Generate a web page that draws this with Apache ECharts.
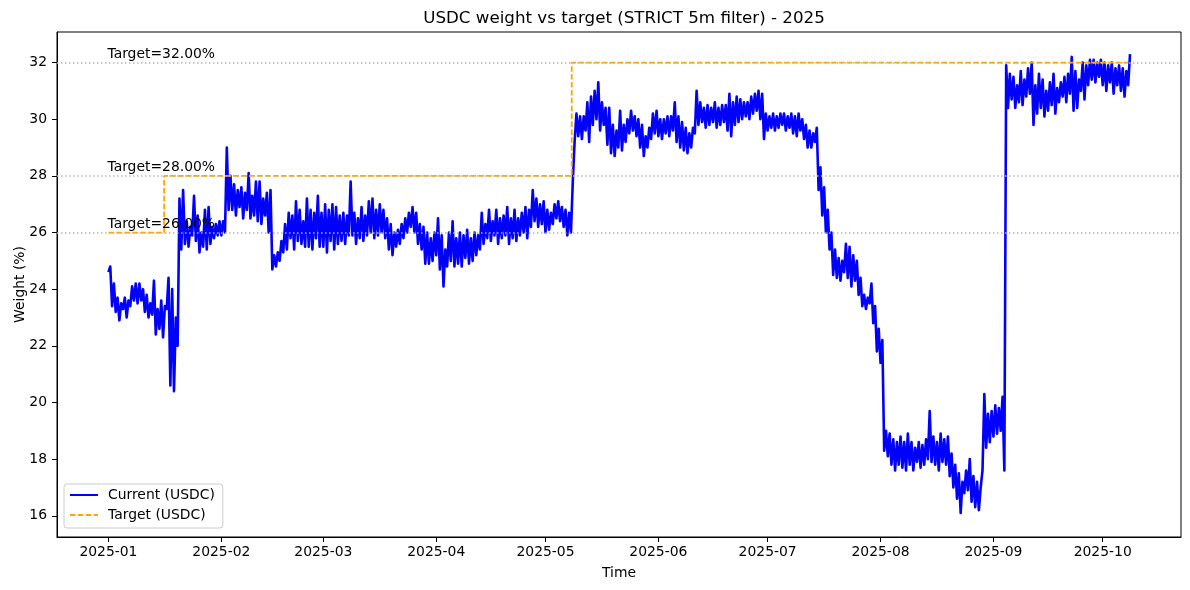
<!DOCTYPE html>
<html><head><meta charset="utf-8">
<script src="https://cdn.jsdelivr.net/npm/echarts@6/dist/echarts.min.js"></script>
<style>html,body{margin:0;padding:0;background:#fff}#c{width:1190px;height:590px}</style>
</head><body><div id="c"></div>
<script>
const titleText = 'USDC weight vs target (STRICT 5m filter) - 2025';
const seriesCurrent = 'Current (USDC)';
const seriesTarget = 'Target (USDC)';
const startDate = '2025-01-01T00:00:00Z';
const xMinDate = '2024-12-17T21:00:00Z';
const xMaxDate = '2025-10-22T12:00:00Z';
const tickLabels = ['2025-01','2025-02','2025-03','2025-04','2025-05','2025-06','2025-07','2025-08','2025-09','2025-10'];
const yTicks = [16, 18, 20, 22, 24, 26, 28, 30, 32];
const yMin = 15.25, yMax = 33.08;

// per-day band of USDC weight (%): low and high, one entry per day from 2025-01-01
const weightLow = [
  24.6,23.4,23.2,22.9,23.3,23.0,23.4,23.6,23.5,23.6,23.2,23.0,23.1,22.4,22.6,22.3,23.3,20.6,20.4,22.0,25.4,25.6,25.5,25.9,25.7,25.3,25.5,25.4,25.6,25.8,25.9,
  25.9,26.0,26.8,26.8,26.6,26.9,26.5,26.8,26.5,26.6,26.4,26.3,26.6,26.0,24.7,24.8,25.0,25.3,25.4,25.8,25.4,25.7,25.6,25.5,25.5,25.4,25.8,25.5,
  25.5,25.3,25.7,25.4,25.6,25.7,25.6,25.9,25.9,25.6,25.8,25.7,25.9,26.0,25.8,25.9,26.0,25.8,25.4,25.2,25.5,25.6,25.8,26.0,26.2,26.0,25.6,25.4,24.9,24.9,
  25.0,25.2,24.7,24.1,24.8,25.0,24.8,24.9,24.8,25.1,24.9,25.0,25.2,25.4,25.6,25.8,25.7,25.9,25.6,25.8,25.9,25.6,25.8,25.7,25.9,26.0,25.8,26.2,26.4,26.2,
  26.3,26.0,26.1,26.3,26.5,26.4,26.2,25.9,26.0,29.2,29.4,29.3,29.6,29.2,29.8,30.0,29.6,29.8,29.1,28.8,28.7,29.0,28.9,29.2,29.5,29.6,29.4,29.0,28.7,29.0,29.3,
  29.5,29.4,29.3,29.5,29.4,29.6,29.2,29.0,28.9,28.8,29.0,29.5,29.8,29.9,29.7,29.8,29.9,29.7,29.8,29.9,29.6,29.4,29.8,29.9,30.0,30.1,30.0,30.2,30.3,30.0,
  29.3,29.6,29.7,29.6,29.7,29.8,29.6,29.7,29.5,29.4,29.6,29.3,29.0,29.0,29.2,27.5,26.6,26.0,25.4,24.5,24.4,24.3,24.6,24.4,24.1,24.3,23.8,23.4,23.3,23.5,22.8,
  21.8,21.4,18.3,18.1,17.8,17.6,17.8,17.7,17.6,17.8,17.6,17.9,17.7,17.8,18.0,17.9,17.8,17.6,17.9,17.8,17.4,17.0,16.6,16.1,16.8,16.9,16.5,16.3,16.2,17.6,18.4,
  18.6,18.8,18.9,19.0,17.6,30.4,30.7,30.4,30.6,30.5,30.8,30.9,29.8,30.2,30.4,30.1,30.3,30.5,30.2,30.6,30.8,30.6,30.9,30.3,30.4,31.0,30.7,31.2,31.4,31.3,
  31.5,31.2,31.0,31.3,30.9,31.2,31.0,30.8,31.2
];
const weightHigh = [
  24.8,24.2,23.7,23.5,23.7,23.6,24.1,24.2,24.2,24.0,23.8,23.5,24.3,23.3,23.6,23.4,24.4,24.0,23.0,27.2,27.5,26.4,26.2,27.3,26.6,26.0,26.8,26.9,26.2,26.3,26.4,
  26.4,29.0,28.0,27.7,27.5,27.6,27.4,28.1,27.3,27.8,27.8,27.2,27.4,27.5,25.2,25.3,25.7,26.3,26.7,26.6,27.1,26.8,26.4,27.2,26.8,26.7,27.3,26.7,
  27.0,26.8,27.0,26.9,26.6,26.7,26.6,27.8,26.7,26.5,26.9,26.6,27.1,27.2,26.8,27.0,26.8,26.5,26.3,26.0,26.1,26.3,26.5,26.7,26.9,26.7,26.3,26.2,26.0,25.8,
  26.0,26.5,25.9,25.4,26.0,26.4,25.8,26.0,25.9,26.1,25.8,26.0,25.9,26.7,26.3,26.8,26.4,26.8,26.5,26.6,26.9,26.5,26.8,26.5,26.7,26.9,26.8,27.5,27.2,27.0,
  27.1,26.8,26.7,27.0,27.1,26.9,26.8,26.7,27.8,30.2,30.1,30.1,30.6,30.8,31.0,31.3,30.6,30.4,30.4,29.8,29.6,30.3,29.8,30.0,30.3,30.1,30.0,29.8,29.4,29.7,30.2,
  30.3,30.0,30.0,30.1,30.1,30.6,30.1,29.9,29.7,29.5,29.7,31.0,30.6,30.4,30.5,30.4,30.6,30.4,30.5,30.5,30.9,30.6,30.8,30.7,30.6,30.6,30.8,30.9,31.0,30.9,
  30.2,30.1,30.2,30.1,30.2,30.2,30.1,30.2,30.1,30.2,30.0,29.8,29.6,29.5,29.7,28.3,27.6,26.8,26.0,25.4,25.1,25.0,25.6,25.5,25.2,25.0,24.4,23.8,23.7,24.2,23.4,
  22.6,22.2,19.0,18.9,18.7,18.6,18.8,18.6,18.9,18.6,18.4,18.6,18.5,18.7,19.7,18.8,18.6,18.9,18.7,18.8,18.2,17.8,17.5,17.2,17.6,18.0,17.4,17.2,17.0,20.3,19.6,
  19.7,19.9,19.8,20.2,31.9,31.6,31.5,31.2,31.7,31.4,31.8,32.0,31.2,31.6,31.4,31.0,31.3,31.6,31.1,31.3,31.5,31.6,32.2,31.7,31.4,32.0,31.9,32.1,32.1,32.0,
  32.1,32.0,31.9,32.0,31.8,31.9,31.8,31.7,32.3
];

// target weight (%): value holds from each date until the next
const targetDates = ['2025-01-01T00:00:00Z','2025-01-16T07:00:00Z','2025-05-08T05:00:00Z','2025-10-08T00:00:00Z'];
const targetValues = [26, 28, 32, 32];
const targetLevels = [26, 28, 32];

const FONT = 'DejaVu Sans';
const DAY = 86400000;
const t0 = Date.parse(startDate);
const currentData = [];
weightLow.forEach((lo, i) => {
  currentData.push([t0 + i * DAY, lo]);
  currentData.push([t0 + (i + 0.5) * DAY, weightHigh[i]]);
});
const targetData = targetDates.map((d, i) => [Date.parse(d), targetValues[i]]);
const tickTimes = tickLabels.map(s => Date.parse(s + '-01T00:00:00Z'));
const tickMap = {};
tickTimes.forEach((t, i) => { tickMap[t] = tickLabels[i]; });

const chart = echarts.init(document.getElementById('c'), null, {renderer: 'canvas'});
chart.setOption({
  animation: false,
  backgroundColor: '#ffffff',
  textStyle: {fontFamily: FONT},
  title: {
    text: titleText, left: 619, top: 5, textAlign: 'center',
    textStyle: {fontFamily: FONT, fontSize: 16.7, fontWeight: 'normal', color: '#000'}
  },
  grid: {left: 57, right: 9, top: 32, bottom: 53, outerBoundsMode: 'none', containLabel: false,
    show: true, borderColor: '#000', borderWidth: 1, backgroundColor: 'transparent'},
  legend: {
    data: [seriesCurrent, seriesTarget],
    orient: 'vertical', left: 64, top: 484,
    padding: [4, 8, 6, 5],
    itemWidth: 28, itemHeight: 14, itemGap: 6,
    itemStyle: {opacity: 0},
    backgroundColor: 'rgba(255,255,255,0.85)', borderColor: '#cccccc', borderWidth: 1, borderRadius: 3,
    textStyle: {fontFamily: FONT, fontSize: 13.9, color: '#000', padding: [0, 0, 0, 5]}
  },
  xAxis: {
    type: 'value',
    min: Date.parse(xMinDate), max: Date.parse(xMaxDate),
    name: 'Time', nameLocation: 'middle', nameGap: 29,
    nameTextStyle: {fontFamily: FONT, fontSize: 13.9, color: '#000'},
    axisLine: {show: true, lineStyle: {color: '#000', width: 1}},
    axisTick: {show: true, length: 5, lineStyle: {color: '#000', width: 1}, customValues: tickTimes},
    axisLabel: {
      color: '#000', fontFamily: FONT, fontSize: 13.9, margin: 8,
      customValues: tickTimes,
      formatter: v => tickMap[v] || ''
    },
    splitLine: {show: false}
  },
  yAxis: {
    type: 'value', min: yMin, max: yMax,
    name: 'Weight (%)', nameLocation: 'middle', nameGap: 30, nameMoveOverlap: false,
    nameTextStyle: {fontFamily: FONT, fontSize: 13.9, color: '#000'},
    axisLine: {show: true, lineStyle: {color: '#000', width: 1}},
    axisTick: {show: true, length: 5, lineStyle: {color: '#000', width: 1}, customValues: yTicks},
    axisLabel: {color: '#000', fontFamily: FONT, fontSize: 13.9, margin: 10, customValues: yTicks},
    splitLine: {show: false}
  },
  series: [
    {
      name: 'targetLines', type: 'line', data: [], z: 1, silent: true,
      markLine: {
        silent: true, symbol: ['none', 'none'], label: {show: false},
        lineStyle: {color: '#b8b8b8', type: [1.5, 2.5], width: 1.5},
        data: targetLevels.map(v => ({yAxis: v}))
      }
    },
    {
      name: seriesCurrent, type: 'line', data: currentData, z: 3,
      symbol: 'none', showSymbol: false, sampling: null,
      lineStyle: {color: '#0000ff', width: 2.6, join: 'round'},
      itemStyle: {color: '#0000ff'}
    },
    {
      name: seriesTarget, type: 'line', data: targetData, step: 'end', z: 4,
      symbol: 'none', showSymbol: false,
      lineStyle: {color: '#ffa500', width: 1.8, type: [5.5, 2.4]},
      itemStyle: {color: '#ffa500'}
    },
    {
      name: 'targetText', type: 'scatter', z: 5, silent: true,
      data: targetLevels.map(v => [t0, v]),
      symbolSize: 0, itemStyle: {color: '#000000'},
      label: {
        show: true, position: [0, 0], align: 'left', verticalAlign: 'bottom', offset: [-1, -1],
        fontFamily: FONT, fontSize: 13.9, color: '#000000', textBorderWidth: 0, opacity: 1,
        formatter: p => 'Target=' + p.value[1].toFixed(2) + '%'
      }
    }
  ]
});
</script></body></html>
